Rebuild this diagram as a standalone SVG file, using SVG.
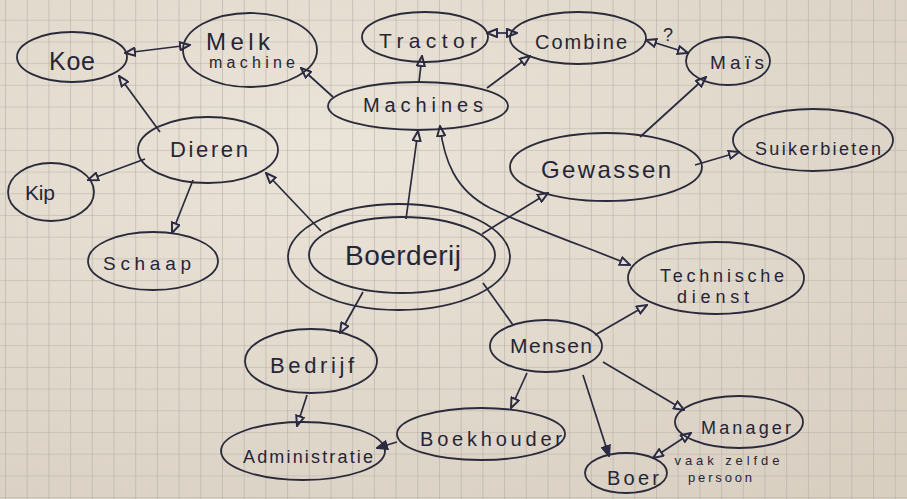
<svg xmlns="http://www.w3.org/2000/svg" width="907" height="499" viewBox="0 0 907 499">
<defs>
<pattern id="grid" x="5" y="-2" width="21.7" height="21.7" patternUnits="userSpaceOnUse">
<path d="M0,0 H21.7 M0,0 V21.7" fill="none" stroke="#b5afa8" stroke-width="1.2"/>
</pattern>
<radialGradient id="light" cx="0.35" cy="0.3" r="0.9">
<stop offset="0" stop-color="#ebe4d8"/>
<stop offset="1" stop-color="#d8cfc1"/>
</radialGradient>
<marker id="tri" viewBox="0 0 12 10" refX="11" refY="5" markerWidth="12" markerHeight="10" markerUnits="userSpaceOnUse" orient="auto-start-reverse">
<path d="M1,1 L11,5 L1,9 z" fill="#e4ddd0" stroke="#2c2b45" stroke-width="2"/>
</marker>
<marker id="triF" viewBox="0 0 12 10" refX="11" refY="5" markerWidth="12" markerHeight="10" markerUnits="userSpaceOnUse" orient="auto-start-reverse">
<path d="M1,1 L11,5 L1,9 z" fill="#2c2b45" stroke="#2c2b45" stroke-width="2"/>
</marker>
</defs>
<style>
.n ellipse{fill:none;stroke:#2a2a3a;stroke-width:1.8}
.n text, text.t{font-family:"Liberation Sans","DejaVu Sans",sans-serif;fill:#262538;text-anchor:middle}
#connectors path{fill:none;stroke:#2a2a3e;stroke-width:1.7}
.a{marker-end:url(#tri)}
.b{marker-start:url(#tri);marker-end:url(#tri)}
.f{marker-end:url(#triF)}
</style>
<rect width="907" height="499" fill="url(#light)"/>
<rect width="907" height="499" fill="url(#grid)"/>

<g id="connectors">
<path class="b" d="M125,53 L190,45"/>
<path class="a" d="M160,132 L119,76"/>
<path class="a" d="M333,97 L301,68"/>
<path class="a" d="M419,82 L422,56"/>
<path class="b" d="M487,33 L517,33"/>
<path class="a" d="M487,88 L530,56"/>
<path class="b" d="M646,40 L688,53"/>
<path class="a" d="M640,137 L706,77"/>
<path class="a" d="M695,165 L739,152"/>
<path class="a" d="M482,234 L548,193"/>
<path class="a" d="M406,219 L418,131"/>
<path class="b" d="M440,126 C444,160 455,190 490,208 C540,232 590,248 630,265"/>
<path class="a" d="M321,231 L266,173"/>
<path class="a" d="M145,159 L88,180"/>
<path class="a" d="M193,180 L172,233"/>
<path class="a" d="M363,292 L340,333"/>
<path class="a" d="M307,395 L297,426"/>
<path class="f" d="M397,442 L377,448"/>
<path d="M483,283 L513,325"/>
<path class="a" d="M595,335 L647,305"/>
<path class="a" d="M527,373 L511,408"/>
<path class="f" d="M583,375 L609,456"/>
<path class="a" d="M603,362 L684,410"/>
<path class="b" d="M653,458 L691,433"/>
</g>

<g id="koe" class="n"><ellipse cx="72" cy="57" rx="55" ry="25"/><text x="72" y="70" font-size="25" textLength="46">Koe</text></g>
<g id="melkmachine" class="n"><ellipse cx="250" cy="50" rx="67" ry="37"/><text x="238" y="50" font-size="24" textLength="64">Melk</text><text x="252" y="68" font-size="16" textLength="86">machine</text></g>
<g id="tractor" class="n"><ellipse cx="425" cy="37" rx="63" ry="25"/><text x="428" y="48" font-size="21" textLength="98">Tractor</text></g>
<g id="combine" class="n"><ellipse cx="578" cy="38" rx="68" ry="26"/><text x="581" y="49" font-size="20" textLength="92">Combine</text></g>
<g id="mais" class="n"><ellipse cx="728" cy="61" rx="42" ry="24"/><text x="737" y="69" font-size="19" textLength="54">Maïs</text></g>
<g id="machines" class="n"><ellipse cx="418" cy="106" rx="90" ry="24"/><text x="423" y="112" font-size="20" textLength="120">Machines</text></g>
<g id="dieren" class="n"><ellipse cx="208" cy="150" rx="70" ry="33"/><text x="209" y="157" font-size="22" textLength="78">Dieren</text></g>
<g id="kip" class="n"><ellipse cx="51" cy="192" rx="43" ry="29"/><text x="40" y="200" font-size="21" textLength="30">Kip</text></g>
<g id="schaap" class="n"><ellipse cx="153" cy="261" rx="65" ry="29"/><text x="147" y="270" font-size="19" textLength="88">Schaap</text></g>
<g id="boerderij" class="n"><ellipse cx="399" cy="257" rx="111" ry="53"/><ellipse cx="402" cy="255" rx="93" ry="38"/><text x="403" y="265" font-size="28" textLength="116">Boerderij</text></g>
<g id="gewassen" class="n"><ellipse cx="606" cy="167" rx="96" ry="34"/><text x="606" y="178" font-size="24" textLength="130">Gewassen</text></g>
<g id="suikerbieten" class="n"><ellipse cx="813" cy="140" rx="80" ry="31"/><text x="818" y="155" font-size="18" textLength="126">Suikerbieten</text></g>
<g id="technischedienst" class="n"><ellipse cx="716" cy="278" rx="88" ry="36"/><text x="722" y="282" font-size="18" textLength="124">Technische</text><text x="713" y="303" font-size="18" textLength="72">dienst</text></g>
<g id="bedrijf" class="n"><ellipse cx="311" cy="361" rx="66" ry="32"/><text x="312" y="373" font-size="22" textLength="84">Bedrijf</text></g>
<g id="mensen" class="n"><ellipse cx="546" cy="346" rx="56" ry="26"/><text x="551" y="353" font-size="21" textLength="82">Mensen</text></g>
<g id="administratie" class="n"><ellipse cx="303" cy="451" rx="82" ry="29"/><text x="308" y="463" font-size="18" textLength="130">Administratie</text></g>
<g id="boekhouder" class="n"><ellipse cx="481" cy="434" rx="84" ry="26"/><text x="491" y="446" font-size="20" textLength="142">Boekhouder</text></g>
<g id="manager" class="n"><ellipse cx="739" cy="422" rx="64" ry="26"/><text x="746" y="434" font-size="18" textLength="90">Manager</text></g>
<g id="boer" class="n"><ellipse cx="626" cy="473" rx="41" ry="20"/><text x="633" y="485" font-size="20" textLength="52">Boer</text></g>

<text class="t" x="727" y="465" font-size="13" textLength="105">vaak zelfde</text>
<text class="t" x="720" y="482" font-size="13" textLength="64">persoon</text>
<text class="t" x="668" y="41" font-size="18">?</text>
</svg>
